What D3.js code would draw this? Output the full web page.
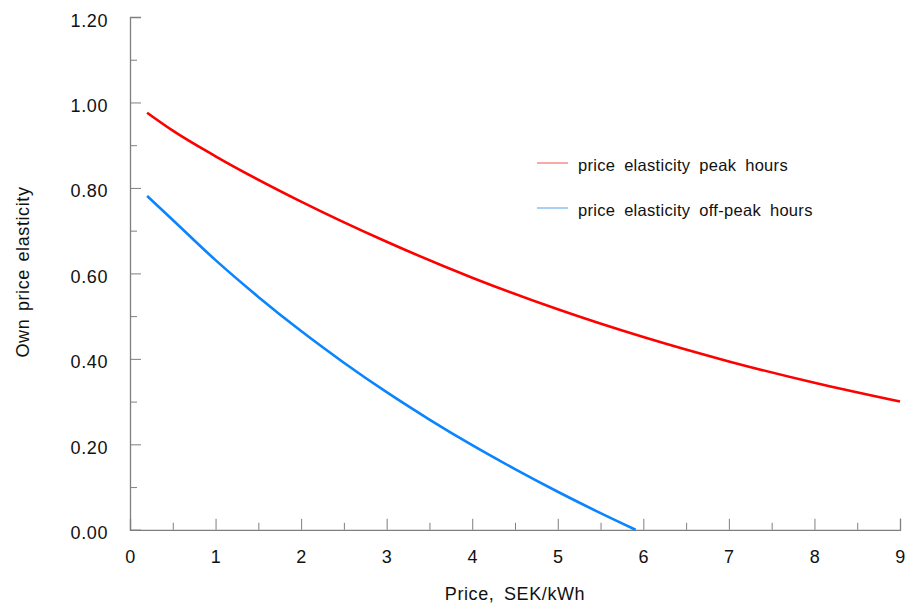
<!DOCTYPE html>
<html>
<head>
<meta charset="utf-8">
<script src="https://cdn.jsdelivr.net/npm/d3@7"></script>
<style>
  body { margin: 0; background: #fff; }
  text { font-family: Arial, "Liberation Sans", sans-serif; fill: #111; }
</style>
</head>
<body>
<div id="chart"></div>
<script>
// data
const peakX = [0.2, 0.5, 1, 2, 3, 4, 5, 6, 7, 8, 9];
const peakY = [0.976, 0.934, 0.874, 0.768, 0.674, 0.590, 0.516, 0.451, 0.394, 0.344, 0.300];
const offPeakX = [0.2, 0.5, 1, 1.5, 2, 2.5, 3, 3.5, 4, 4.5, 5, 5.5, 5.91];
const offPeakY = [0.781, 0.725, 0.631, 0.545, 0.465, 0.391, 0.322, 0.258, 0.198, 0.142, 0.089, 0.039, 0.0];
const seriesNames = ['price elasticity peak hours', 'price elasticity off-peak hours'];
const seriesColors = ['#ff0000', '#0a84ff'];
const legendColors = ['#f27272', '#72b0f2'];
const xTicks = [0, 1, 2, 3, 4, 5, 6, 7, 8, 9];
const yTicks = [0, 0.2, 0.4, 0.6, 0.8, 1.0, 1.2];

const width = 908, height = 607;
const margin = { top: 17, right: 8, bottom: 77, left: 130 };

const svg = d3.select('#chart').append('svg')
  .attr('width', width)
  .attr('height', height);

const x = d3.scaleLinear().domain([0, 9]).range([margin.left, 900]);
const y = d3.scaleLinear().domain([0, 1.2]).range([height - margin.bottom - 0.2, margin.top]);

const axisColor = '#7f7f7f';

// minor ticks
svg.append('g')
  .attr('transform', `translate(0,${y(0)})`)
  .call(d3.axisBottom(x).tickValues(d3.range(0.5, 9, 1)).tickSize(-7).tickFormat(''))
  .call(g => g.select('.domain').remove())
  .call(g => g.selectAll('line').attr('stroke', axisColor));
svg.append('g')
  .attr('transform', `translate(${x(0)},0)`)
  .call(d3.axisLeft(y).tickValues(d3.range(0.1, 1.2, 0.2)).tickSize(-7).tickFormat(''))
  .call(g => g.select('.domain').remove())
  .call(g => g.selectAll('line').attr('stroke', axisColor));

// x axis
const xAxis = svg.append('g')
  .attr('transform', `translate(0,${y(0)})`)
  .call(d3.axisBottom(x).tickValues(xTicks).tickSize(-11).tickPadding(0).tickFormat(d3.format('d')));
xAxis.select('.domain').attr('stroke', axisColor).attr('stroke-width', 1.3);
xAxis.selectAll('line').attr('stroke', axisColor);
xAxis.selectAll('text')
  .attr('y', 33).attr('dy', null)
  .style('font-size', '18px').style('letter-spacing', '0.6px')
  .attr('fill', '#111');

// y axis
const yAxis = svg.append('g')
  .attr('transform', `translate(${x(0)},0)`)
  .call(d3.axisLeft(y).tickValues(yTicks).tickSize(-11).tickFormat(d3.format('.2f')));
yAxis.select('.domain').attr('stroke', axisColor).attr('stroke-width', 1.3);
yAxis.selectAll('line').attr('stroke', axisColor);
yAxis.selectAll('text')
  .attr('x', -22).attr('dy', null).attr('y', 9)
  .style('font-size', '18px').style('letter-spacing', '0.6px')
  .attr('fill', '#111');

// curves
const line = d3.line().x(d => x(d[0])).y(d => y(d[1])).curve(d3.curveMonotoneX);
svg.append('path')
  .datum(d3.zip(peakX, peakY))
  .attr('fill', 'none')
  .attr('stroke', seriesColors[0])
  .attr('stroke-width', 2.6)
  .attr('d', line);
svg.append('path')
  .datum(d3.zip(offPeakX, offPeakY))
  .attr('fill', 'none')
  .attr('stroke', seriesColors[1])
  .attr('stroke-width', 2.6)
  .attr('d', line);

// legend
const legend = svg.append('g').attr('transform', 'translate(537,163)');
seriesNames.forEach((name, i) => {
  const row = legend.append('g').attr('transform', `translate(0,${i * 45})`);
  row.append('line')
    .attr('x1', 0).attr('x2', 31)
    .attr('stroke', legendColors[i])
    .attr('stroke-width', 1.2);
  row.append('text')
    .attr('x', 41).attr('y', 8)
    .style('font-size', '16.5px')
    .style('word-spacing', '4px')
    .style('letter-spacing', '0.3px')
    .text(name);
});

// axis titles
svg.append('text')
  .attr('x', 515).attr('y', 600)
  .attr('text-anchor', 'middle')
  .style('font-size', '18px')
  .style('letter-spacing', '0.6px')
  .style('word-spacing', '4px')
  .text('Price, SEK/kWh');

svg.append('text')
  .attr('transform', 'translate(29,272) rotate(-90)')
  .attr('text-anchor', 'middle')
  .style('font-size', '18px')
  .style('letter-spacing', '0.6px')
  .style('word-spacing', '2px')
  .text('Own price elasticity');
</script>
</body>
</html>
